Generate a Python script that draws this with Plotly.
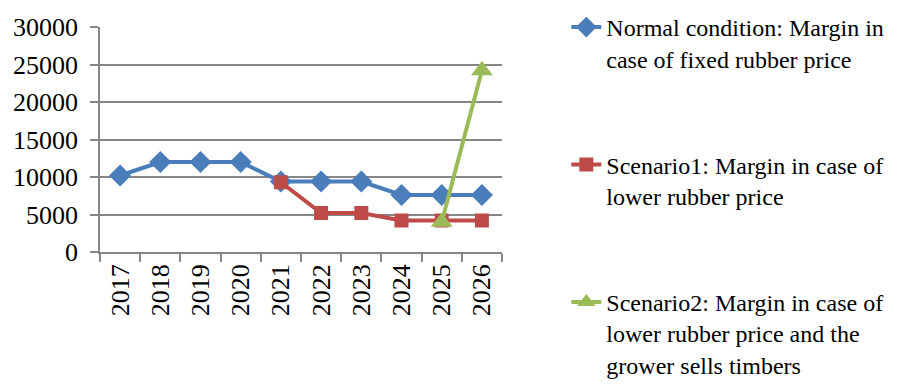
import plotly.graph_objects as go

years = ["2017", "2018", "2019", "2020", "2021", "2022", "2023", "2024", "2025", "2026"]
normal = [10200, 12000, 12000, 12000, 9400, 9400, 9400, 7600, 7600, 7600]
scenario1 = [None, None, None, None, 9300, 5200, 5200, 4200, 4200, 4200]
scenario2 = [None, None, None, None, None, None, None, None, 4000, 24200]
names = [
    "Normal condition: Margin in<br>case of fixed rubber price",
    "Scenario1: Margin in case of<br>lower rubber price",
    "Scenario2: Margin in case of<br>lower rubber price and the<br>grower sells timbers",
]
y_ticks = [0, 5000, 10000, 15000, 20000, 25000, 30000]
y_ticktext = ["0", "5000", "10000", "15000", "20000", "25000", "30000"]

FONT = "Liberation Serif, Times New Roman, serif"
GRID = "#868686"

fig = go.Figure()
series = [
    (normal, "#4A7EBB", "diamond", 17),
    (scenario1, "#BE4B48", "square", 14),
    (scenario2, "#9BBB59", "triangle-up", 19),
]
for i, (vals, col, sym, sz) in enumerate(series):
    fig.add_trace(go.Scatter(
        x=years, y=vals, name=names[i], mode="lines+markers",
        line=dict(color=col, width=4),
        marker=dict(symbol=sym, size=sz, color=col),
        legendgroup=f"g{i}", connectgaps=False,
    ))

fig.update_layout(
    width=922, height=387,
    margin=dict(l=100, r=420, t=25, b=135, pad=0),
    paper_bgcolor="white", plot_bgcolor="white",
    font=dict(family=FONT, size=26, color="black"),
    showlegend=True,
    legend=dict(
        x=1.16, xanchor="left",
        y=1.065, yanchor="top",
        font=dict(family=FONT, size=24, color="black"),
        valign="top", tracegroupgap=72, itemwidth=30,
        bgcolor="rgba(0,0,0,0)", maxheight=1.0,
    ),
    xaxis=dict(
        type="category", tickangle=-90, tickson="boundaries",
        ticks="outside", ticklen=8, tickcolor=GRID, tickwidth=1.5,
        showline=True, linecolor=GRID, linewidth=1.5,
        showgrid=False, tickfont=dict(size=26),
        range=[-0.5, 9.5],
    ),
    yaxis=dict(
        range=[0, 30000], tickvals=y_ticks, ticktext=y_ticktext,
        ticks="outside", ticklen=8, tickcolor=GRID, tickwidth=1.5,
        showline=True, linecolor=GRID, linewidth=1.5,
        showgrid=True, gridcolor=GRID, gridwidth=1.5,
        zeroline=False, tickfont=dict(size=26),
        ticklabelstandoff=7,
    ),
)

fig.write_html("out.html")
